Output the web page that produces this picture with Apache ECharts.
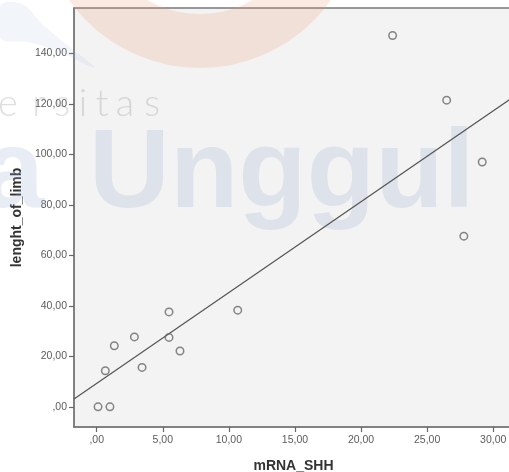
<!DOCTYPE html>
<html>
<head>
<meta charset="utf-8">
<script src="https://cdn.jsdelivr.net/npm/echarts@6/dist/echarts.min.js"></script>
<style>
html,body{margin:0;padding:0;background:#fff;}
#chart{width:509px;height:472px;}
</style>
</head>
<body>
<div id="chart"></div>
<script>
// Data
var mRNA_SHH = [22.39, 26.48, 29.17, 27.78, 5.47, 10.67, 2.85, 5.47, 1.33, 6.30, 0.65, 3.43, 0.10, 1.00];
var lenght_of_limb = [147.1, 121.5, 97.0, 67.6, 37.6, 38.3, 27.7, 27.5, 24.2, 22.1, 14.3, 15.6, 0.0, 0.0];
// fit line end points
var fitLineX = [-1.72, 31.5];
var fitLineY = [3.05, 122.6];
// tick values and labels
var xTickValues = [0, 5, 10, 15, 20, 25, 30];
var xTickLabels = [',00', '5,00', '10,00', '15,00', '20,00', '25,00', '30,00'];
var yTickValues = [0, 20, 40, 60, 80, 100, 120, 140];
var yTickLabels = [',00', '20,00', '40,00', '60,00', '80,00', '100,00', '120,00', '140,00'];

var points = mRNA_SHH.map(function (x, i) { return [x, lenght_of_limb[i]]; });
var fitLine = fitLineX.map(function (x, i) { return [x, fitLineY[i]]; });

function labelFor(values, labels) {
  return function (v) {
    for (var i = 0; i < values.length; i++) {
      if (Math.abs(values[i] - v) < 1e-6) return labels[i];
    }
    return '';
  };
}

var chart = echarts.init(document.getElementById('chart'), null, {renderer: 'canvas'});

var wmBlue = 'rgba(150,170,205,0.22)';
var wmGray = 'rgba(120,120,130,0.24)';
var ersitas = [['e', 8], ['r', 39], ['s', 62], ['i', 83], ['t', 102], ['a', 125], ['s', 152]];
var graphics = [
  {type: 'ring', z: 1, silent: true, shape: {cx: 200, cy: -92, r: 160, r0: 106},
   style: {fill: 'rgba(235,150,110,0.2)'}},
  {type: 'polygon', z: 1, silent: true, shape: {smooth: 0.4, points: [[0,6],[22,4],[42,24],[66,44],[95,68],[60,52],[28,42],[0,38]]},
   style: {fill: 'rgba(150,170,205,0.12)'}},
  {type: 'text', z: 1, silent: true, x: 89, y: 232,
   style: {text: 'Unggul', fill: wmBlue, font: 'bold 112px "Liberation Sans", sans-serif', align: 'left', verticalAlign: 'bottom'}},
  {type: 'text', z: 1, silent: true, x: 44, y: 232,
   style: {text: 'a', fill: wmBlue, font: 'bold 112px "Liberation Sans", sans-serif', align: 'right', verticalAlign: 'bottom'}}
];
ersitas.forEach(function (l) {
  graphics.push({type: 'text', z: 1, silent: true, x: l[1], y: 123,
    style: {text: l[0], fill: wmGray, font: '300 38px Lato, sans-serif', align: 'center', verticalAlign: 'bottom'}});
});

chart.setOption({
  backgroundColor: '#ffffff',
  animation: false,
  grid: {
    left: 74, top: 8, width: 439, bottom: 45,
    outerBoundsMode: 'none', containLabel: false,
    show: true, backgroundColor: '#f3f3f3', borderColor: '#7a7a7a', borderWidth: 1.5
  },
  graphic: graphics,
  xAxis: {
    type: 'value', min: -1.72, max: 31.5,
    name: 'mRNA_SHH', nameLocation: 'middle', nameGap: 32,
    nameTextStyle: {fontFamily: 'Liberation Sans', fontWeight: 'bold', fontSize: 14, color: '#333'},
    splitLine: {show: false},
    axisLine: {show: true, onZero: false, lineStyle: {color: '#7a7a7a', width: 1.5}},
    axisTick: {show: true, length: 5, customValues: xTickValues, lineStyle: {color: '#666', width: 1.2}},
    axisLabel: {customValues: xTickValues, formatter: labelFor(xTickValues, xTickLabels), margin: 8,
      fontFamily: 'Liberation Sans', fontSize: 10.5, color: '#5c5c5c'}
  },
  yAxis: {
    type: 'value', min: -8, max: 158,
    name: 'lenght_of_limb', nameLocation: 'middle', nameGap: 42,
    nameTextStyle: {fontFamily: 'Liberation Sans', fontWeight: 'bold', fontSize: 14, color: '#333'},
    splitLine: {show: false},
    axisLine: {show: true, onZero: false, lineStyle: {color: '#7a7a7a', width: 1.5}},
    axisTick: {show: true, length: 5, customValues: yTickValues, lineStyle: {color: '#666', width: 1.2}},
    axisLabel: {customValues: yTickValues, formatter: labelFor(yTickValues, yTickLabels), margin: 7,
      fontFamily: 'Liberation Sans', fontSize: 10.5, color: '#5c5c5c'}
  },
  series: [
    {
      type: 'line', data: fitLine, showSymbol: false, symbol: 'none', z: 2, silent: true,
      lineStyle: {color: '#555', width: 1.2}
    },
    {
      type: 'scatter', data: points, symbol: 'circle', symbolSize: 7.5, z: 3,
      itemStyle: {color: 'rgba(0,0,0,0)', borderColor: '#666', borderWidth: 1.5}
    }
  ]
});
</script>
</body>
</html>
